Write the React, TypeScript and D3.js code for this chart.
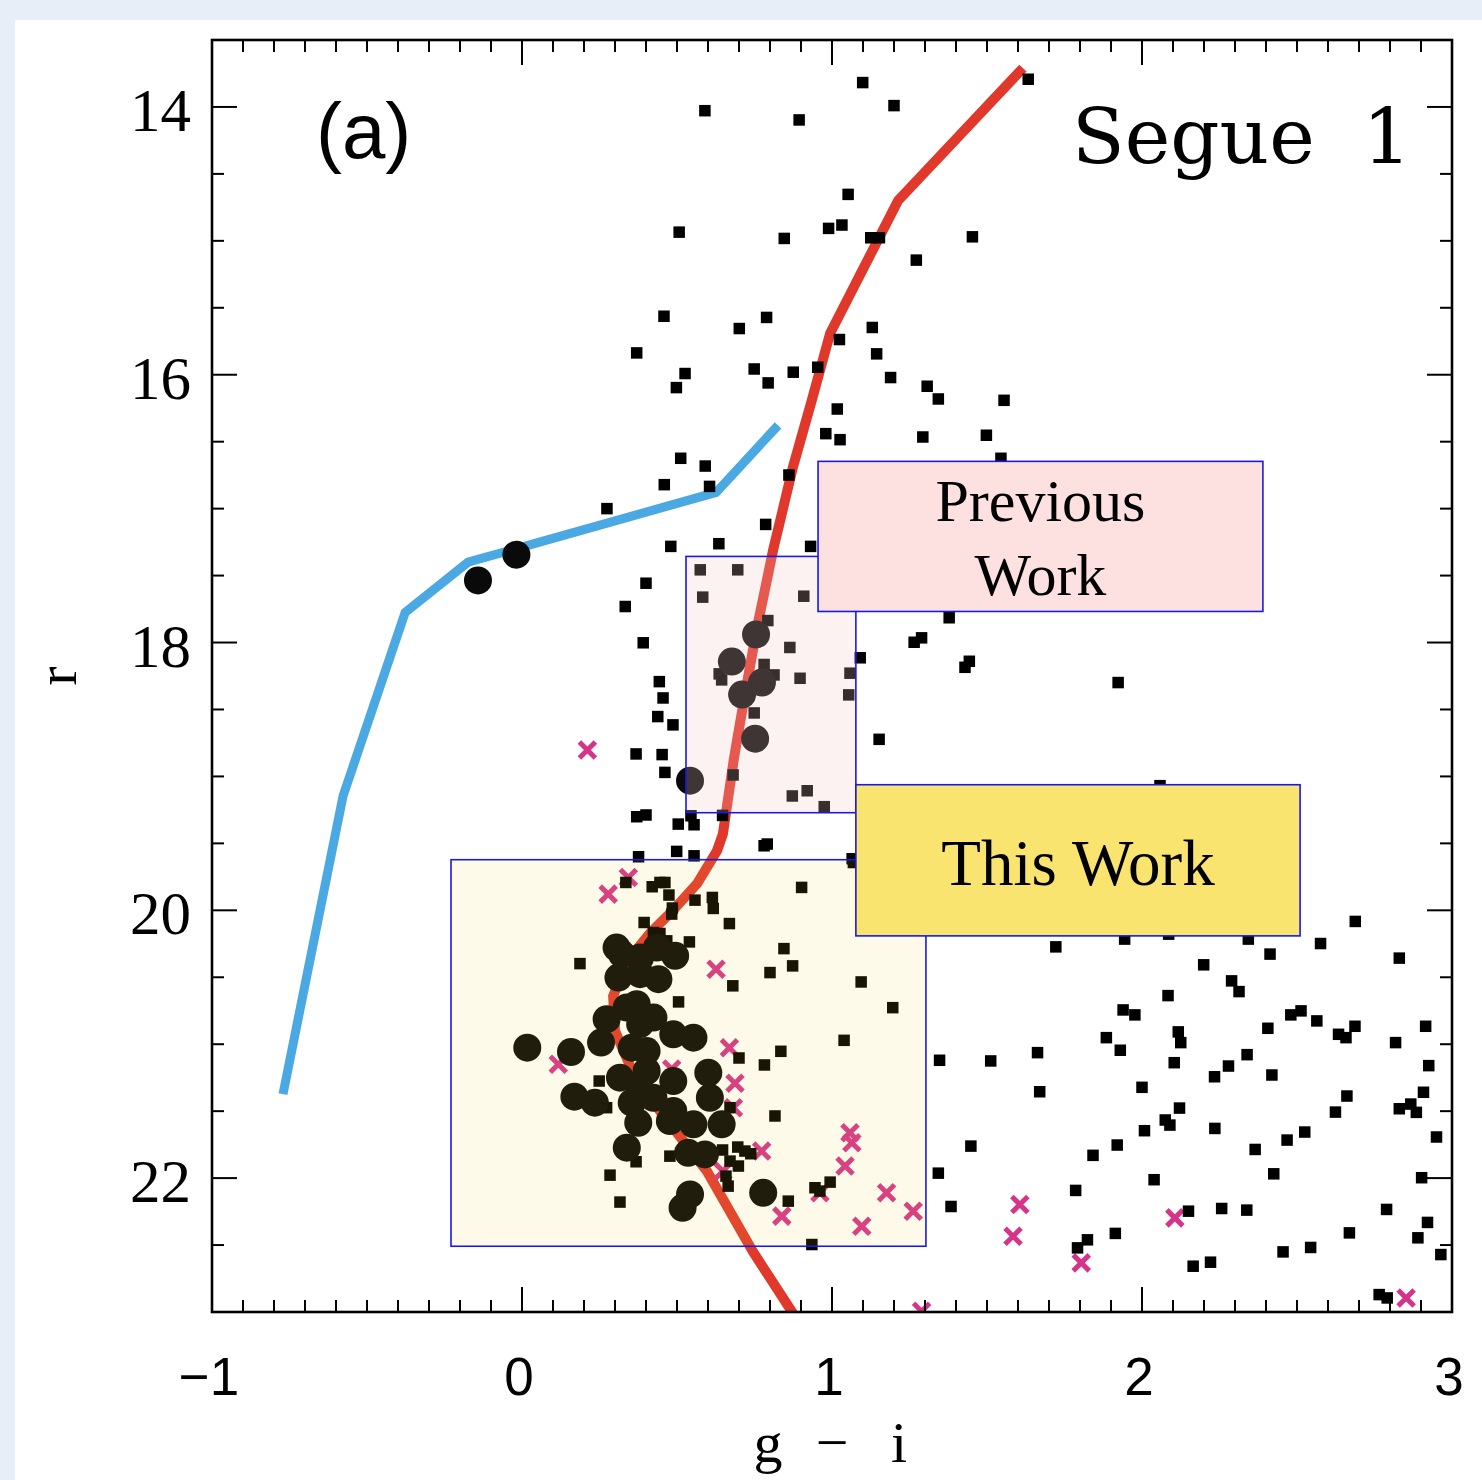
import * as d3 from "d3";
import { useEffect, useRef } from "react";

// размеры картинки
const W = 1482;
const H = 1480;

// оси: g - i по x, r по y (звёздная величина растёт вниз)
const xDomain: [number, number] = [-1, 3];
const yDomain: [number, number] = [13.5, 23];
const xMajor = [-1, 0, 1, 2, 3];
const xTickLabels = ["\u22121", "0", "1", "2", "3"];
const yMajor = [14, 16, 18, 20, 22];
const yTickLabels = ["14", "16", "18", "20", "22"];

// изохрона (красная)
const isochrone: [number, number][] = [
  [1.616, 13.71], [1.213, 14.7], [0.994, 15.69], [0.935, 16.19], [0.874, 16.69],
  [0.81, 17.31], [0.758, 17.89], [0.716, 18.43], [0.684, 18.86], [0.648, 19.43],
  [0.629, 19.555], [0.565, 19.8], [0.487, 20.0], [0.413, 20.17], [0.339, 20.38],
  [0.294, 20.64], [0.3, 20.9], [0.348, 21.16], [0.445, 21.5], [0.597, 21.95],
  [0.745, 22.55], [0.874, 23.01],
];

// линия горизонтальной ветви (синяя)
const hbRidge: [number, number][] = [
  [0.826, 16.378], [0.626, 16.879], [-0.174, 17.4], [-0.377, 17.776],
  [-0.577, 19.144], [-0.771, 21.372],
];

// члены скопления (большие кружки)
const members: [number, number][] = [
  [-0.142, 17.536], [-0.018, 17.344],
  [0.755, 17.94], [0.677, 18.142], [0.774, 18.299], [0.71, 18.389], [0.752, 18.718], [0.542, 19.032],
  [0.017, 21.026], [0.158, 21.058], [0.169, 21.392], [0.235, 21.437], [0.316, 21.25],
  [0.255, 20.988], [0.273, 20.813], [0.338, 20.726], [0.37, 20.701], [0.424, 20.801],
  [0.381, 20.849], [0.488, 20.926], [0.553, 20.951], [0.305, 20.278], [0.322, 20.327],
  [0.381, 20.353], [0.435, 20.278], [0.494, 20.34], [0.311, 20.502], [0.44, 20.514],
  [0.381, 20.477], [0.354, 21.026], [0.402, 21.051], [0.354, 21.437], [0.424, 21.4],
  [0.488, 21.275], [0.488, 21.499], [0.601, 21.213], [0.606, 21.4], [0.644, 21.598],
  [0.553, 21.598], [0.477, 21.574], [0.375, 21.587], [0.338, 21.773], [0.536, 21.811],
  [0.59, 21.823], [0.542, 22.122], [0.518, 22.222], [0.778, 22.11], [0.402, 21.2],
  [0.381, 21.335],
];

// не члены (крестики)
const nonMembers: [number, number][] = [
  [0.211, 18.802], [0.278, 19.879], [0.343, 19.755], [0.626, 20.44], [0.669, 21.026],
  [0.687, 21.292], [0.682, 21.474], [0.117, 21.15], [0.773, 21.798], [1.058, 21.661],
  [1.064, 21.736], [1.042, 21.91], [0.961, 22.11], [1.176, 22.11], [1.262, 22.247],
  [1.096, 22.359], [0.838, 22.284], [0.648, 21.948], [0.483, 21.185], [1.606, 22.197],
  [1.584, 22.434], [1.804, 22.633], [2.106, 22.297], [2.852, 22.895], [1.289, 22.995],
];

// звёзды поля (квадратики)
const fieldStars: [number, number][] = [
  [1.099, 13.818], [1.2, 13.99], [0.59, 14.028], [0.894, 14.097], [1.633, 13.793],
  [1.052, 14.653], [0.507, 14.935], [0.989, 14.907], [1.032, 14.882], [0.846, 14.982],
  [1.125, 14.977], [1.153, 14.977], [1.453, 14.97], [1.272, 15.144], [0.458, 15.563],
  [0.789, 15.572], [0.701, 15.655], [1.13, 15.647], [1.024, 15.737], [0.37, 15.837],
  [0.526, 15.991], [0.498, 16.096], [0.749, 15.957], [0.794, 16.061], [0.875, 15.981],
  [0.954, 15.944], [1.144, 15.844], [1.189, 16.021], [1.307, 16.086], [1.343, 16.181],
  [1.555, 16.191], [1.017, 16.256], [0.98, 16.44], [1.026, 16.485], [1.293, 16.465],
  [1.498, 16.452], [1.545, 16.624], [0.512, 16.624], [0.591, 16.682], [0.459, 16.821],
  [0.605, 16.834], [0.274, 17.0], [0.861, 16.749], [0.786, 17.118], [0.48, 17.282],
  [0.635, 17.262], [0.931, 17.282], [0.4, 17.557], [0.333, 17.731], [0.391, 18.002],
  [0.443, 18.292], [0.455, 18.414], [0.438, 18.553], [0.487, 18.615], [0.368, 18.832],
  [0.452, 18.837], [0.461, 18.97],
  [0.575, 17.457], [0.696, 17.457], [0.583, 17.661], [0.909, 17.654], [0.793, 17.836],
  [0.864, 18.037], [0.781, 18.164], [0.813, 18.242], [0.636, 18.234], [0.644, 18.279],
  [0.897, 18.267], [1.058, 18.229], [1.054, 18.391], [0.749, 18.526], [0.681, 18.989],
  [0.872, 19.146], [0.92, 19.107], [0.975, 19.226],
  [1.091, 18.114], [1.152, 18.723], [1.378, 17.815], [1.265, 17.998], [1.289, 17.965],
  [1.429, 18.185], [1.443, 18.14], [1.923, 18.299], [2.058, 19.069],
  [0.37, 19.301], [0.4, 19.288], [0.504, 19.356], [0.555, 19.361], [0.545, 19.294],
  [0.647, 19.291], [0.499, 19.56], [0.555, 19.593], [0.376, 19.6], [0.781, 19.518],
  [0.791, 19.505], [1.065, 19.615],
  [0.335, 19.792], [0.42, 19.824], [0.445, 19.792], [0.461, 19.792], [0.474, 19.886],
  [0.558, 19.924], [0.614, 19.904], [0.617, 19.986], [0.485, 19.983], [0.483, 20.028],
  [0.394, 20.091], [0.669, 20.099], [0.902, 19.829], [1.069, 19.643], [0.54, 20.236],
  [0.424, 20.166], [0.445, 20.173], [0.467, 20.228], [0.187, 20.398], [0.845, 20.286],
  [0.873, 20.415], [0.8, 20.465], [0.68, 20.564], [1.094, 20.535], [1.196, 20.727],
  [0.505, 20.684], [1.039, 20.971], [0.835, 21.053], [0.782, 21.155], [0.7, 21.103],
  [0.249, 21.275], [0.273, 21.474], [0.816, 21.536], [0.671, 21.474], [0.647, 21.79],
  [0.696, 21.768], [0.719, 21.798], [0.738, 21.818], [0.671, 21.873], [0.698, 21.91],
  [0.658, 21.985], [0.665, 22.06], [0.477, 21.836], [0.368, 21.878], [0.284, 21.978],
  [0.316, 22.179], [0.859, 22.172], [0.935, 22.496], [0.945, 22.072], [0.961, 22.097],
  [0.994, 22.03],
  [1.347, 21.12], [1.512, 21.125], [1.663, 21.063], [1.67, 21.355], [1.448, 21.761],
  [1.343, 21.963], [1.384, 22.212], [1.722, 20.273], [1.944, 20.215], [2.086, 20.178],
  [2.343, 20.215], [2.688, 20.083], [2.576, 20.248], [2.413, 20.327], [2.83, 20.357],
  [2.199, 20.407], [2.289, 20.527], [2.313, 20.607], [2.084, 20.637], [1.939, 20.744],
  [1.977, 20.781], [2.406, 20.881], [2.48, 20.781], [2.513, 20.751], [2.564, 20.826],
  [2.687, 20.866], [2.634, 20.926], [2.658, 20.951], [2.915, 20.866], [2.818, 20.988],
  [2.117, 20.908], [2.125, 20.988], [1.885, 20.951], [1.93, 21.045], [2.104, 21.138],
  [2.339, 21.078], [2.279, 21.163], [2.234, 21.243], [2.419, 21.23], [2.925, 21.16],
  [2.0, 21.322], [2.908, 21.359], [2.661, 21.387], [2.624, 21.507], [2.83, 21.482],
  [2.867, 21.447], [2.885, 21.509], [2.121, 21.477], [2.075, 21.566], [2.09, 21.604],
  [2.008, 21.646], [2.235, 21.629], [2.525, 21.656], [2.468, 21.716], [2.365, 21.786],
  [2.95, 21.693], [1.92, 21.753], [1.842, 21.83], [2.425, 21.968], [2.039, 22.012],
  [2.902, 21.997], [1.786, 22.092], [2.15, 22.247], [2.257, 22.227], [2.338, 22.239],
  [2.789, 22.234], [2.921, 22.331], [2.669, 22.409], [2.89, 22.446], [1.914, 22.413],
  [1.824, 22.461], [1.792, 22.521], [2.455, 22.551], [2.544, 22.518], [2.964, 22.571],
  [2.165, 22.658], [2.221, 22.628], [2.765, 22.87], [2.791, 22.895],
];

// области выборки [gi0, gi1, r0, r1]
const prevRegion = [0.529, 1.077, 17.357, 19.271];
const thisRegion = [-0.229, 1.303, 19.622, 22.509];
// подписи-плашки
const prevLabel = [0.955, 2.39, 16.647, 17.768];
const thisLabel = [1.077, 2.51, 19.062, 20.191];

const margin = { top: 40, bottom: 168, left: 212, right: 30 };

const App = () => {
  const ref = useRef<SVGSVGElement>(null);

  useEffect(() => {
    const svg = d3.select(ref.current);
    svg.selectAll("*").remove();

    const x = d3.scaleLinear().domain(xDomain).range([margin.left, W - margin.right]);
    const y = d3.scaleLinear().domain(yDomain).range([margin.top, H - margin.bottom]);
    const [x0, x1] = x.range();
    const [y0, y1] = y.range();

    // фон
    svg.append("rect").attr("width", W).attr("height", H).attr("fill", "#e7eef8");
    svg.append("rect").attr("x", 15).attr("y", 20).attr("width", W - 15).attr("height", H - 20).attr("fill", "#fff");

    svg.append("clipPath").attr("id", "plot")
      .append("rect").attr("x", x0).attr("y", y0).attr("width", x1 - x0).attr("height", y1 - y0);

    const g = svg.append("g").attr("clip-path", "url(#plot)");

    const line = d3.line<[number, number]>().x((d) => x(d[0])).y((d) => y(d[1]));

    g.append("path").attr("d", line(hbRidge)).attr("fill", "none")
      .attr("stroke", "#4aa9e2").attr("stroke-width", 9);
    g.append("path").attr("d", line(isochrone)).attr("fill", "none")
      .attr("stroke", "#e0392c").attr("stroke-width", 10);

    // крестики
    const cs = 8;
    nonMembers.forEach(([gi, r]) => {
      const cx = x(gi), cy = y(r);
      g.append("path")
        .attr("d", `M${cx - cs},${cy - cs}L${cx + cs},${cy + cs}M${cx - cs},${cy + cs}L${cx + cs},${cy - cs}`)
        .attr("stroke", "#d6338a").attr("stroke-width", 5).attr("fill", "none");
    });

    // квадраты
    const sq = 11.5;
    g.selectAll("rect.field").data(fieldStars).join("rect")
      .attr("class", "field")
      .attr("x", (d) => x(d[0]) - sq / 2)
      .attr("y", (d) => y(d[1]) - sq / 2)
      .attr("width", sq).attr("height", sq).attr("fill", "#000");

    // кружки
    g.selectAll("circle").data(members).join("circle")
      .attr("cx", (d) => x(d[0])).attr("cy", (d) => y(d[1])).attr("r", 14)
      .attr("fill", "#0a0a0a");

    // полупрозрачные области
    const box = (b: number[], fill: string) =>
      svg.append("rect")
        .attr("x", x(b[0])).attr("y", y(b[2]))
        .attr("width", x(b[1]) - x(b[0])).attr("height", y(b[3]) - y(b[2]))
        .attr("fill", fill).attr("stroke", "#1a1ae0").attr("stroke-width", 1.6);
    box(prevRegion, "rgba(245,200,200,0.23)");
    box(thisRegion, "rgba(250,210,50,0.1)");
    box(prevLabel, "#fde0e0");
    box(thisLabel, "#f9e46f");

    const serif = "'Liberation Serif', 'Times New Roman', serif";
    const cxPrev = (x(prevLabel[0]) + x(prevLabel[1])) / 2;
    svg.append("text").attr("x", cxPrev).attr("y", y(prevLabel[2]) + 60)
      .attr("text-anchor", "middle").attr("font-family", serif).attr("font-size", 60).text("Previous");
    svg.append("text").attr("x", cxPrev).attr("y", y(prevLabel[2]) + 134)
      .attr("text-anchor", "middle").attr("font-family", serif).attr("font-size", 60).text("Work");
    svg.append("text").attr("x", (x(thisLabel[0]) + x(thisLabel[1])) / 2).attr("y", y(thisLabel[2]) + 100)
      .attr("text-anchor", "middle").attr("font-family", serif).attr("font-size", 65).text("This Work");

    // рамка
    svg.append("rect").attr("x", x0).attr("y", y0).attr("width", x1 - x0).attr("height", y1 - y0)
      .attr("fill", "none").attr("stroke", "#000").attr("stroke-width", 2.6);

    // деления
    const ticks = svg.append("g").attr("stroke", "#000").attr("stroke-width", 2);
    d3.range(-10, 31).forEach((i) => {
      const v = i / 10;
      const len = i % 10 === 0 ? 25 : 12;
      ticks.append("line").attr("x1", x(v)).attr("x2", x(v)).attr("y1", y1).attr("y2", y1 - len);
      ticks.append("line").attr("x1", x(v)).attr("x2", x(v)).attr("y1", y0).attr("y2", y0 + len);
    });
    d3.range(28, 46).forEach((i) => {
      const v = i / 2;
      const len = yMajor.includes(v) ? 25 : 12;
      ticks.append("line").attr("x1", x0).attr("x2", x0 + len).attr("y1", y(v)).attr("y2", y(v));
      ticks.append("line").attr("x1", x1).attr("x2", x1 - len).attr("y1", y(v)).attr("y2", y(v));
    });

    // подписи делений
    xMajor.forEach((v, i) => {
      svg.append("text").attr("x", x(v) - 3).attr("y", 1395)
        .attr("text-anchor", "middle").attr("font-family", "'Liberation Sans', Arial, sans-serif")
        .attr("font-size", 53).text(xTickLabels[i]);
    });
    yMajor.forEach((v, i) => {
      svg.append("text").attr("x", 191).attr("y", y(v) + 24)
        .attr("text-anchor", "end").attr("font-family", serif)
        .attr("font-size", 61).text(yTickLabels[i]);
    });

    // подписи осей
    [["g", 768], ["\u2212", 832], ["i", 899]].forEach(([t, px]) => {
      svg.append("text").attr("x", px).attr("y", 1462).attr("text-anchor", "middle")
        .attr("font-family", serif).attr("font-size", 58).text(t as string);
    });
    svg.append("text").attr("transform", "translate(76,676) rotate(-90)")
      .attr("text-anchor", "middle").attr("font-family", serif).attr("font-size", 58).text("r");

    svg.append("text").attr("x", 316).attr("y", 158)
      .attr("font-family", "'Liberation Sans', Arial, sans-serif").attr("font-size", 78).text("(a)");
    const cent = "'DejaVu Serif', serif";
    svg.append("text").attr("x", 1072).attr("y", 163).attr("font-family", cent).attr("font-size", 77).text("Segue");
    svg.append("text").attr("x", 1387).attr("y", 163).attr("text-anchor", "middle")
      .attr("font-family", cent).attr("font-size", 77).text("1");
  }, []);

  return (
    <svg ref={ref} width={W} height={H}
      style={{ position: "absolute", left: 0, top: 0, display: "block" }} />
  );
};

export default App;
